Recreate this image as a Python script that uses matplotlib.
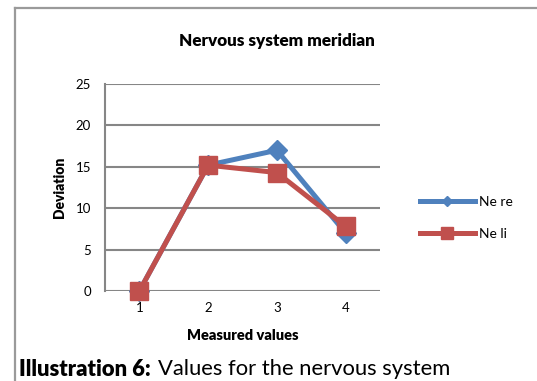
import matplotlib.pyplot as plt
from matplotlib.lines import Line2D

# data
measurements = [1, 2, 3, 4]
ne_re = [0, 15.2, 17.0, 7.0]
ne_li = [0, 15.2, 14.3, 7.8]
series_names = ['Ne re', 'Ne li']

blue = '#4F81BD'
red = '#C0504D'
grid_grey = '#868686'

plt.rcParams['font.family'] = ['Lato', 'DejaVu Sans']

W, H = 537, 381
fig = plt.figure(figsize=(W / 100, H / 100), dpi=100)

# axes placed in pixel terms
ax = fig.add_axes([105 / W, 1 - 291 / H, 275 / W, 207 / H])

x = range(len(measurements))
ax.plot(x, ne_re, color=blue, lw=3.6, marker='D', ms=10, zorder=3, clip_on=False)
ax.plot(x, ne_li, color=red, lw=3.6, marker='s', ms=13, zorder=4, clip_on=False)

ax.set_xlim(-0.5, len(measurements) - 0.5)
ax.set_ylim(0, 25)
ax.set_yticks([0, 5, 10, 15, 20, 25])
ax.set_xticks(list(x))
ax.set_xticklabels([str(m) for m in measurements])
ax.tick_params(axis='both', length=0, labelsize=9.5, colors='black', pad=8)
ax.tick_params(axis='y', pad=10)
ax.grid(axis='y', color=grid_grey, lw=1.5)
ax.set_axisbelow(True)
for s in ['top', 'right', 'bottom']:
    ax.spines[s].set_visible(False)
ax.spines['left'].set_color(grid_grey)
ax.spines['left'].set_linewidth(1.5)
ax.patch.set_alpha(0)

ax.set_xlabel('Measured values', fontsize=10.5, fontweight='heavy', labelpad=11)
ax.set_ylabel('Deviation', fontsize=10, fontweight='heavy', labelpad=7)

fig.text(277 / W, 1 - 41 / H, 'Nervous system meridian', ha='center', va='center',
         fontsize=12.3, fontweight='heavy')

# legend drawn by hand with small markers
handles = [Line2D([], [], color=blue, lw=3.6, marker='D', ms=5),
           Line2D([], [], color=red, lw=3.6, marker='s', ms=8)]
fig.legend(handles, series_names, loc='center left', bbox_to_anchor=(407 / W, 1 - 218 / H),
           frameon=False, fontsize=10, handlelength=4.0, handletextpad=0.3,
           labelspacing=1.4)

# outer frame (left and top edge)
fig.add_artist(Line2D([14.5 / W, 14.5 / W], [0, 1 - 7.5 / H], color='#9a9a9a', lw=1.6))
fig.add_artist(Line2D([14.5 / W, 1], [1 - 7.5 / H, 1 - 7.5 / H], color='#9a9a9a', lw=1.6))

# caption
cap = fig.text(19 / W, 1 - 369 / H, 'Illustration 6:', ha='left', va='center',
               fontsize=15.8, fontweight='heavy')
fig.canvas.draw()
bb = cap.get_window_extent()
fig.text(bb.x1 / W + 7 / W, 1 - 369 / H, 'Values for the nervous system', ha='left',
         va='center', fontsize=15.8)

fig.savefig('out.png', dpi=100)
